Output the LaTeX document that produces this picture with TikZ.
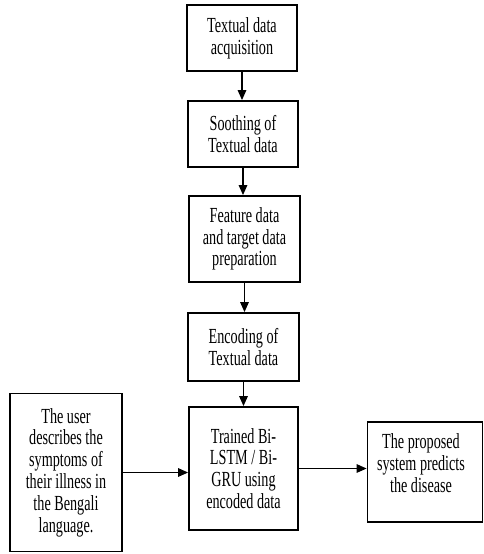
\documentclass[tikz,border=0pt]{standalone}
\usepackage{fontspec}
\setmainfont[FakeStretch=0.66]{Liberation Serif}
\usetikzlibrary{arrows.meta}
\begin{document}
\begin{tikzpicture}[x=1pt,y=-1pt,
  box/.style={draw=black,line width=1.8pt,align=center,inner sep=1pt,
    font=\fontsize{21.5}{21.8}\selectfont},
  txt/.style={align=center,inner sep=0pt,font=\fontsize{21.5}{21.8}\selectfont},
  arr/.style={line width=1.4pt,-{Triangle[length=10pt,width=8.5pt]}}]
\useasboundingbox (0,0) rectangle (484,554);
\fill[white] (0,0) rectangle (484,554);
\node[box,minimum width=110pt,minimum height=66pt] (b1) at (242,38) {Textual data\\acquisition};
\node[box,minimum width=110pt,minimum height=66pt] (b2) at (243,134) {Soothing of\\Textual data};
\node[box,minimum width=111pt,minimum height=86pt] (b3) at (244.5,239) {Feature data\\and target data\\preparation};
\node[box,minimum width=111pt,minimum height=68pt] (b4) at (243.5,347) {Encoding of\\Textual data};
\node[box,minimum width=109pt,minimum height=123pt] (b5) at (243.5,468.5) {Trained Bi-\\LSTM / Bi-\\GRU using\\encoded data};
\node[box,minimum width=112pt,minimum height=158pt] (user) at (66,472.5) {The user\\describes the\\symptoms of\\their illness in\\the Bengali\\language.};
\node[box,minimum width=115pt,minimum height=100pt] (out) at (425,472) {};
\node[txt,anchor=north] (outtext) at (421,433.5) {The proposed\\system predicts\\the disease};
\draw[arr] (b1.south) -- (b1.south |- b2.north);
\draw[arr] (b2.south) -- (b2.south |- b3.north);
\draw[arr] (b3.south) -- (b3.south |- b4.north);
\draw[arr] (b4.south) -- (b4.south |- b5.north);
\draw[arr] (user.east) -- (user.east -| b5.west);
\draw[arr] (b5.east) -- (b5.east -| out.west);
\end{tikzpicture}
\end{document}
